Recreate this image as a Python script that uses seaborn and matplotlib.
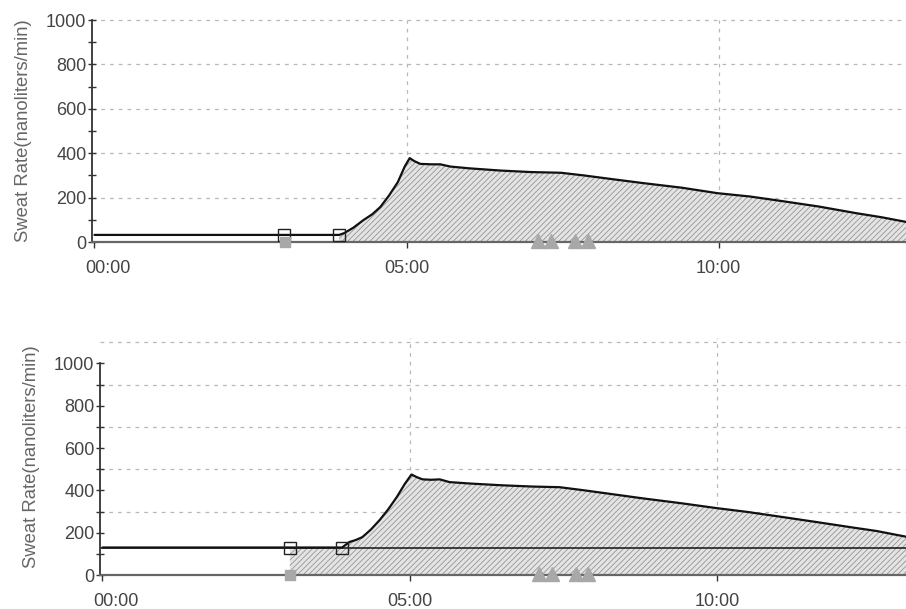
import matplotlib
matplotlib.use("Agg")
import matplotlib.pyplot as plt
import matplotlib.transforms as mtransforms
import numpy as np
import pandas as pd
import seaborn as sns

# readings (minutes, nanoliters/min)
top_time = [0, 3.04, 3.92, 4.0, 4.15, 4.31, 4.45, 4.58, 4.72, 4.86, 4.97, 5.05, 5.12, 5.22, 5.4,
            5.54, 5.7, 6.0, 6.5, 7.0, 7.47, 7.84, 8.3, 8.8, 9.4, 9.98, 10.5, 11.0, 11.6, 12.2, 12.6, 13.05]
top_rate = [32, 32, 32, 40, 65, 99, 125, 158, 210, 270, 340, 378, 365, 352, 350,
            350, 340, 332, 322, 315, 312, 300, 283, 265, 245, 220, 205, 185, 160, 130, 112, 88]

bot_time = [0, 3.05, 3.9, 4.02, 4.12, 4.23, 4.37, 4.51, 4.65, 4.79, 4.92, 5.03, 5.12, 5.21, 5.35,
            5.49, 5.65, 6.0, 6.5, 7.0, 7.44, 7.82, 8.3, 8.8, 9.4, 10.0, 10.5, 11.0, 11.63, 12.2, 12.6, 13.1]
bot_rate = [130, 130, 130, 156, 165, 179, 215, 259, 310, 368, 430, 475, 462, 452, 450,
            452, 439, 432, 424, 418, 415, 401, 382, 362, 340, 316, 298, 277, 250, 225, 208, 180]

top_squares = [3.04, 3.92]
bot_squares = [3.05, 3.9]
top_fill_from = 3.92
bot_fill_from = 3.05
bot_baseline = 130
event_boxes = [3.05]
event_triangles = [7.1, 7.32, 7.7, 7.9]

x_ticks = [0, 5, 10]
x_labels = ["00:00", "05:00", "10:00"]

sns.set_style("white")
plt.rcParams["font.family"] = ["Liberation Sans", "DejaVu Sans"]
plt.rcParams["hatch.linewidth"] = 0.6

fig = plt.figure(figsize=(9.06, 6.09), dpi=100)
ax_top = fig.add_axes([0.1015, 0.6026, 0.8985, 0.3645])
ax_bot = fig.add_axes([0.1104, 0.0558, 0.8896, 0.3892])

grid_kw = dict(color="#b8b8b8", lw=0.9, ls=(0, (3, 4)), zorder=0)


def draw_panel(ax, time, rate, squares, fill_from, hlines, ytop, xmax, baseline=None):
    df = pd.DataFrame({"t": time, "rate": rate})
    for h in hlines:
        ax.axhline(h, clip_on=False, **grid_kw)
    for v in [5, 10]:
        ax.axvline(v, **grid_kw)

    fill = df[df["t"] >= fill_from]
    ax.fill_between(fill["t"], 0, fill["rate"], facecolor="#e4e4e4", edgecolor="#959595",
                    hatch="//////", lw=0, zorder=1)

    if baseline is not None:
        ax.axhline(baseline, color="#222222", lw=1.2, zorder=2)

    sns.lineplot(data=df, x="t", y="rate", ax=ax, color="#111111", lw=1.6, zorder=3)
    sq = df[df["t"].isin(squares)]
    ax.plot(sq["t"], sq["rate"], ls="none", marker="s", ms=9, mfc="none", mec="#222222",
            mew=1.0, zorder=4)

    ax.plot(event_boxes, [0] * len(event_boxes), ls="none", marker="s", ms=7, color="#a8a8a8",
            zorder=4, clip_on=False)
    ax.plot(event_triangles, [4] * len(event_triangles), ls="none", marker="^", ms=10,
            color="#a8a8a8", zorder=4, clip_on=False)

    ax.set_xlim(-0.04, xmax)
    ax.set_ylim(0, ytop)
    ax.set_yticks(range(0, 1001, 200))
    ax.set_yticks(range(100, 1000, 200), minor=True)
    ax.set_xticks(x_ticks)
    ax.set_xticklabels(x_labels)
    ax.tick_params(axis="y", which="both", direction="inout", length=6, width=1,
                   color="#333333", labelsize=13, labelcolor="#444444", pad=1, left=True)
    ax.tick_params(axis="x", direction="out", length=4, width=1, color="#333333",
                   labelsize=13, labelcolor="#444444", pad=9, bottom=True)
    ax.set_xlabel("")
    ax.set_ylabel("Sweat Rate(nanoliters/min)", fontsize=13.3, color="#666666", labelpad=10)
    for s in ["top", "right"]:
        ax.spines[s].set_visible(False)
    ax.spines["left"].set_color("#333333")
    ax.spines["left"].set_linewidth(1.3)
    ax.spines["left"].set_bounds(0, 1000)
    ax.spines["bottom"].set_color("#666666")
    ax.spines["bottom"].set_linewidth(1.6)
    lab = ax.get_xticklabels()[0]
    lab.set_transform(lab.get_transform() + mtransforms.ScaledTranslation(10 / 72, 0, fig.dpi_scale_trans))


draw_panel(ax_top, top_time, top_rate, top_squares, top_fill_from,
           [200, 400, 600, 800, 1000], 1000, 13.0)
draw_panel(ax_bot, bot_time, bot_rate, bot_squares, bot_fill_from,
           [300, 500, 700, 900, 1100], 1120, 13.08, baseline=bot_baseline)

fig.savefig("out.png", dpi=100)
